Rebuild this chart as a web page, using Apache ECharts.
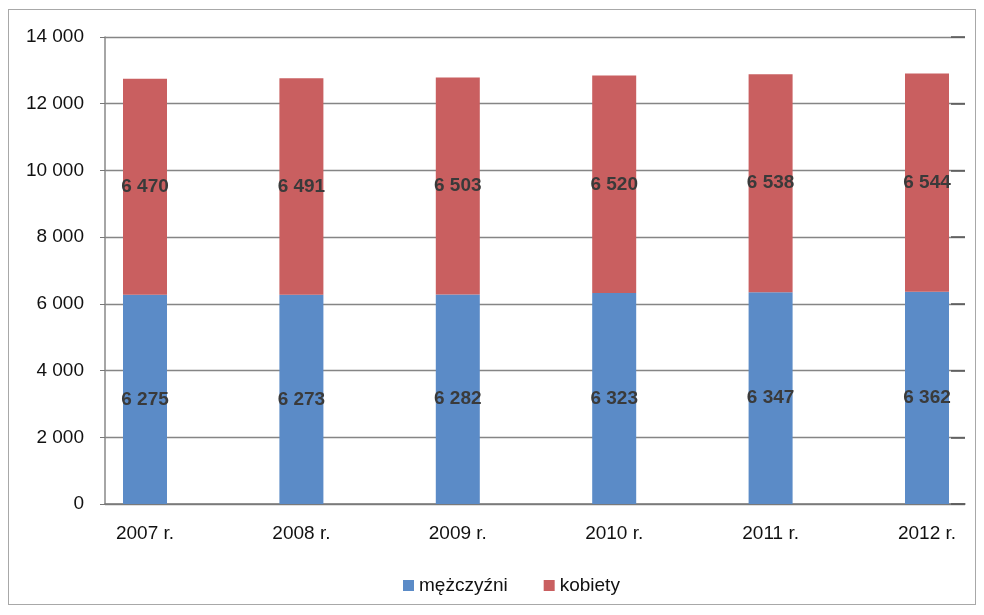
<!DOCTYPE html>
<html>
<head>
<meta charset="utf-8">
<script src="https://cdn.jsdelivr.net/npm/echarts@6/dist/echarts.min.js"></script>
<style>
html,body{margin:0;padding:0;background:#fff;}
#frame{position:absolute;left:8px;top:9px;width:966px;height:594px;border:1px solid #a8a8a8;}
#main{position:absolute;left:0;top:0;width:984px;height:615px;}
</style>
</head>
<body>
<div id="frame"></div>
<div id="main"></div>
<script>
const categories = ['2007 r.', '2008 r.', '2009 r.', '2010 r.', '2011 r.', '2012 r.'];
const men = [6275, 6273, 6282, 6323, 6347, 6362];
const women = [6470, 6491, 6503, 6520, 6538, 6544];
const seriesNames = ['mężczyźni', 'kobiety'];
const yTicks = [0, 2000, 4000, 6000, 8000, 10000, 12000, 14000];

function fmt(v){ return String(v).replace(/\B(?=(\d{3})+(?!\d))/g, ' '); }

const chart = echarts.init(document.getElementById('main'), null, {renderer:'canvas'});
const FONT = "'Liberation Sans', Arial, sans-serif";
const yMin = yTicks[0], yMax = yTicks[yTicks.length-1], yInt = yTicks[1]-yTicks[0];

const labelStyle = {
  show: true, position: 'inside', formatter: p => fmt(p.value),
  color: '#3a3a3a', fontFamily: FONT,
  fontSize: 19, fontWeight: 'bold'
};

chart.setOption({
  animation: false,
  grid: [
    {left: 105, right: 19, top: 37, bottom: 111},
    {left: 145, right: 57, top: 37, bottom: 111}
  ],
  legend: {
    data: seriesNames, left: 398, top: 571, icon: 'rect', itemWidth: 11, itemHeight: 11, itemGap: 36,
    textStyle: {fontFamily: FONT, fontSize: 19, color: '#111'}
  },
  xAxis: [
    {type: 'category', gridIndex: 0, data: categories, axisLabel: {show: false}, axisTick: {show: false},
     axisLine: {show: true, lineStyle: {color: '#777', width: 1.5}}},
    {type: 'category', gridIndex: 1, data: categories, boundaryGap: false,
     axisLine: {show: false}, axisTick: {show: false},
     axisLabel: {margin: 20, fontFamily: FONT, fontSize: 19, color: '#111'}}
  ],
  yAxis: [
    {type: 'value', gridIndex: 0, min: yMin, max: yMax, interval: yInt,
     axisLine: {show: true, lineStyle: {color: '#888', width: 1.5}},
     axisTick: {show: true, length: 5, lineStyle: {color: '#777'}},
     splitLine: {show: true, lineStyle: {color: '#858585', width: 1.3}},
     axisLabel: {margin: 21, formatter: v => fmt(v), fontFamily: FONT, fontSize: 19, color: '#111'}},
    {type: 'value', gridIndex: 0, position: 'right', min: yMin, max: yMax, interval: yInt,
     axisLine: {show: false}, splitLine: {show: false}, axisLabel: {show: false},
     axisTick: {show: true, inside: true, length: 14, lineStyle: {color: '#555', width: 1.5}}},
    {type: 'value', gridIndex: 1, min: yMin, max: yMax, interval: yInt, show: false}
  ],
  series: [
    {name: seriesNames[0], type: 'bar', stack: 'total', xAxisIndex: 1, yAxisIndex: 2, clip: false,
     barWidth: 44, data: men, itemStyle: {color: '#5B8BC7'}, label: labelStyle},
    {name: seriesNames[1], type: 'bar', stack: 'total', xAxisIndex: 1, yAxisIndex: 2, clip: false,
     barWidth: 44, data: women, itemStyle: {color: '#C95F60'}, label: labelStyle}
  ]
});
</script>
</body>
</html>
